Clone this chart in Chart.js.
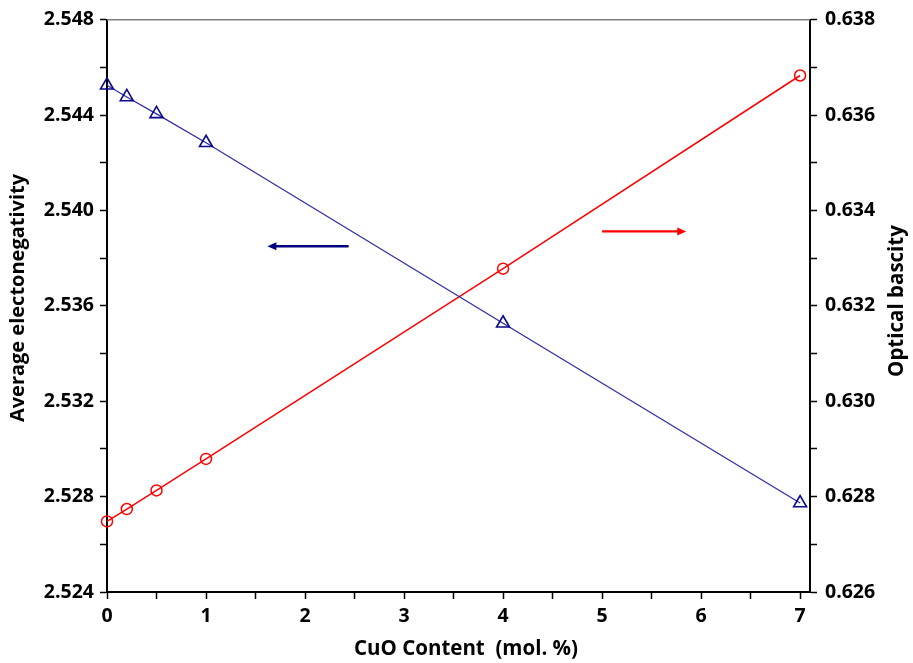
<!DOCTYPE html>
<html><head><meta charset="utf-8">
<script src="https://cdn.jsdelivr.net/npm/chart.js@4"></script>
<style>html,body{margin:0;padding:0;background:#fff}</style>
</head>
<body>
<canvas id="c" width="913" height="663"></canvas>
<script>
// ---- data ----
const cuoContent = [0, 0.2, 0.5, 1, 4, 7];
const electronegativity = [2.54525, 2.54476, 2.54405, 2.54284, 2.53527, 2.52773];
const opticalBasicity = [0.62748, 0.62774, 0.62813, 0.62879, 0.63278, 0.63683];
const xTickValues = [0, 0.5, 1, 1.5, 2, 2.5, 3, 3.5, 4, 4.5, 5, 5.5, 6, 6.5, 7];
const leftTickValues = [2.524, 2.526, 2.528, 2.530, 2.532, 2.534, 2.536, 2.538, 2.540, 2.542, 2.544, 2.546, 2.548];
const rightTickValues = [0.626, 0.627, 0.628, 0.629, 0.630, 0.631, 0.632, 0.633, 0.634, 0.635, 0.636, 0.637, 0.638];
const xTitle = 'CuO Content  (mol. %)';
const leftTitle = 'Average electonegativity';
const rightTitle = 'Optical bascity';
const blueArrowX = [2.44, 1.62];
const blueArrowY = 2.5385;
const redArrowX = [5.0, 5.85];
const redArrowY = 0.63356;

const FONT = '"Open Sans", "DejaVu Sans", sans-serif';
const BLUE_LINE = '#2f2fa8';
const BLUE_MARK = '#0a0a8a';
const RED = '#ff0000';

function fixTicks(values) {
  return function(scale) { scale.ticks = values.map(v => ({ value: v })); };
}

const decorPlugin = {
  id: 'decor',
  afterDraw(chart) {
    const { ctx, chartArea: a, scales } = chart;
    ctx.save();
    // top border
    ctx.strokeStyle = '#7f7f7f';
    ctx.lineWidth = 1.5;
    ctx.beginPath();
    ctx.moveTo(a.left, a.top);
    ctx.lineTo(a.right, a.top);
    ctx.stroke();

    // arrows
    function arrow(x0, x1, y, yScale, color, lw) {
      const px0 = scales.x.getPixelForValue(x0);
      const px1 = scales.x.getPixelForValue(x1);
      const py = yScale.getPixelForValue(y);
      const dir = Math.sign(px1 - px0);
      ctx.strokeStyle = color;
      ctx.fillStyle = color;
      ctx.lineWidth = lw;
      ctx.beginPath();
      ctx.moveTo(px0, py);
      ctx.lineTo(px1 - dir * 6, py);
      ctx.stroke();
      ctx.beginPath();
      ctx.moveTo(px1, py);
      ctx.lineTo(px1 - dir * 9, py - 4);
      ctx.lineTo(px1 - dir * 9, py + 4);
      ctx.closePath();
      ctx.fill();
    }
    arrow(blueArrowX[0], blueArrowX[1], blueArrowY, scales.y, '#000080', 2.5);
    arrow(redArrowX[0], redArrowX[1], redArrowY, scales.y2, RED, 2.2);

    // titles
    ctx.fillStyle = '#000';
    ctx.textAlign = 'center';
    ctx.textBaseline = 'middle';
    ctx.font = 'bold 20.5px ' + FONT;
    ctx.fillText(xTitle, 466, 649);
    ctx.save();
    ctx.translate(18, 298);
    ctx.rotate(-Math.PI / 2);
    ctx.font = 'bold 20px ' + FONT;
    ctx.fillText(leftTitle, 0, 0);
    ctx.restore();
    ctx.save();
    ctx.translate(897, 301);
    ctx.rotate(-Math.PI / 2);
    ctx.font = 'bold 20.5px ' + FONT;
    ctx.fillText(rightTitle, 0, 0);
    ctx.restore();
    ctx.restore();
  }
};

new Chart(document.getElementById('c'), {
  type: 'line',
  data: {
    datasets: [
      {
        label: 'Average electronegativity',
        data: cuoContent.map((x, i) => ({ x, y: electronegativity[i] })),
        yAxisID: 'y',
        borderColor: BLUE_LINE,
        borderWidth: 1.3,
        pointStyle: 'triangle',
        pointRadius: 7.5,
        pointBorderColor: BLUE_MARK,
        pointBackgroundColor: 'rgba(0,0,0,0)',
        pointBorderWidth: 1.6,
        tension: 0,
        clip: false
      },
      {
        label: 'Optical basicity',
        data: cuoContent.map((x, i) => ({ x, y: opticalBasicity[i] })),
        yAxisID: 'y2',
        borderColor: RED,
        borderWidth: 1.5,
        pointStyle: 'circle',
        pointRadius: 5.5,
        pointBorderColor: RED,
        pointBackgroundColor: 'rgba(0,0,0,0)',
        pointBorderWidth: 1.5,
        tension: 0,
        clip: false
      }
    ]
  },
  options: {
    responsive: false,
    animation: false,
    layout: { padding: { top: 15, left: 0, right: 0, bottom: 0 } },
    plugins: { legend: { display: false }, tooltip: { enabled: false } },
    scales: {
      x: {
        type: 'linear',
        min: 0,
        max: 7.1,
        afterBuildTicks: fixTicks(xTickValues),
        afterFit(s) { s.height = 71; },
        border: { color: '#000', width: 2 },
        grid: { display: true, drawOnChartArea: false, drawTicks: true, tickLength: 7, color: '#000', tickWidth: 1.5 },
        ticks: {
          padding: 6,
          color: '#000',
          font: { family: FONT, size: 19.5, weight: 'bold' },
          maxRotation: 0,
          autoSkip: false,
          callback: (v) => Number.isInteger(v) ? String(v) : ''
        }
      },
      y: {
        type: 'linear',
        position: 'left',
        min: 2.524,
        max: 2.548,
        afterBuildTicks: fixTicks(leftTickValues),
        afterFit(s) { s.width = 107; },
        border: { color: '#000', width: 2 },
        grid: { display: true, drawOnChartArea: false, drawTicks: true, tickLength: 7, color: '#000', tickWidth: 1.5 },
        ticks: {
          padding: 6,
          color: '#000',
          autoSkip: false,
          font: { family: FONT, size: 19.5, weight: 'bold' },
          callback: (v, i) => i % 2 === 0 ? Number(v).toFixed(3) : ''
        }
      },
      y2: {
        type: 'linear',
        position: 'right',
        min: 0.626,
        max: 0.638,
        afterBuildTicks: fixTicks(rightTickValues),
        afterFit(s) { s.width = 103; },
        border: { color: '#000', width: 2 },
        grid: { display: true, drawOnChartArea: false, drawTicks: true, tickLength: 7, color: '#000', tickWidth: 1.5 },
        ticks: {
          padding: 8,
          color: '#000',
          autoSkip: false,
          font: { family: FONT, size: 19.5, weight: 'bold' },
          callback: (v, i) => i % 2 === 0 ? Number(v).toFixed(3) : ''
        }
      }
    }
  },
  plugins: [decorPlugin]
});
</script>
</body></html>
